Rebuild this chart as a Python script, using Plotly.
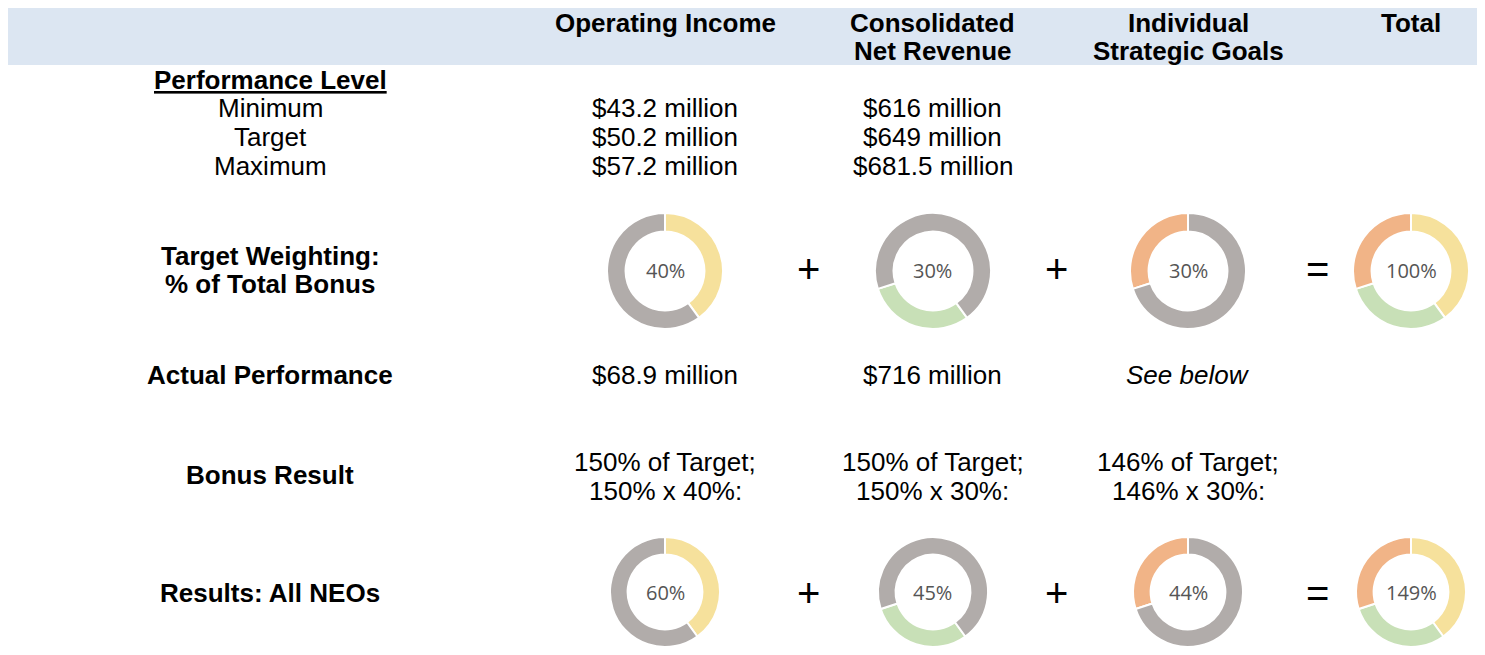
import plotly.graph_objects as go

W, H = 1485, 655
OFF = 8  # page body margin
FW, FH = W - 2 * OFF, H - 2 * OFF

# ---- data ----
components = ["Operating Income", "Consolidated<br>Net Revenue", "Individual<br>Strategic Goals"]
total_label = "Total"
levels = ["Minimum", "Target", "Maximum"]
op_income_levels = ["$43.2 million", "$50.2 million", "$57.2 million"]
net_revenue_levels = ["$616 million", "$649 million", "$681.5 million"]
weights = [40, 30, 30]               # target weighting, % of total bonus
actual_perf = ["$68.9 million", "$716 million", "See below"]
payout_pct = [150, 150, 146]         # % of target achieved
results_pct = [60, 45, 44]           # weighted result per component
results_total = 149
seg_colors = ["#f6e19c", "#c8e0b7", "#f1b487"]
gray = "#b1acaa"

# ---- layout helpers ----
col_x = [665, 933, 1188]
total_x = 1411
label_x = 270
ops_x = [808, 1056, 1317]
donut_rows = [271, 595]
R = 58

FONT = "Liberation Sans, Arial, sans-serif"
annots = []


def px(x):
    return min(1.0, max(0.0, (x - OFF) / FW))


def py(y):
    return min(1.0, max(0.0, 1 - (y - OFF) / FH))


def txt(x, y, s, size=26, bold=False, italic=False, color="#000000", family=FONT):
    if bold:
        s = "<b>" + s + "</b>"
    if italic:
        s = "<i>" + s + "</i>"
    annots.append(dict(x=px(x), y=py(y), xref="paper", yref="paper",
                       text=s, showarrow=False, xanchor="center", yanchor="middle",
                       borderpad=0,
                       font=dict(size=size, color=color, family=family)))


fig = go.Figure()

# header band
fig.add_shape(type="rect", xref="paper", yref="paper",
              x0=px(7), x1=px(1477), y0=py(65), y1=py(7),
              fillcolor="#dce6f2", line=dict(width=0), layer="below")

# header texts
for cx, name in zip(col_x, components):
    parts = name.split("<br>")
    for k, p in enumerate(parts):
        txt(cx, 23 + 28 * k, p, bold=True)
txt(total_x, 23, total_label, bold=True)

# performance levels
txt(label_x, 80, "<u>Performance Level</u>", bold=True)
for k, lv in enumerate(levels):
    y = 108 + 29 * k
    txt(label_x, y, lv)
    txt(col_x[0], y, op_income_levels[k])
    txt(col_x[1], y, net_revenue_levels[k])

# row labels
txt(label_x, 256, "Target Weighting:", bold=True)
txt(label_x, 284, "% of Total Bonus", bold=True)
txt(label_x, 375, "Actual Performance", bold=True)
txt(label_x, 475, "Bonus Result", bold=True)
txt(label_x, 593, "Results: All NEOs", bold=True)

# actual performance
for k, a in enumerate(actual_perf):
    txt(col_x[k], 375, a, italic=(k == 2))

# bonus result
for k in range(3):
    txt(col_x[k], 462, f"{payout_pct[k]}% of Target;")
    txt(col_x[k], 491, f"{payout_pct[k]}% x {weights[k]}%:")

# operators
for cy in donut_rows:
    for k, op in enumerate(["+", "+", "="]):
        txt(ops_x[k], cy - 2, op, size=40)


# donuts
def donut(cx, cy, values, colors, rotation, label):
    y0, y1 = py(cy + R), py(cy - R)
    fig.add_trace(go.Pie(
        values=values, marker=dict(colors=colors, line=dict(color="white", width=2)),
        hole=0.68, sort=False, direction="clockwise", rotation=rotation,
        textinfo="none", hoverinfo="skip", showlegend=False,
        domain=dict(x=[px(cx - R), px(cx + R)], y=[y0, y1]),
    ))
    # label at centre of the (possibly clipped) domain
    annots.append(dict(x=px(cx), y=(y0 + y1) / 2, xref="paper", yref="paper",
                       text=label, showarrow=False, xanchor="center", yanchor="middle",
                       font=dict(size=20, color="#555555", family="Open Sans, sans-serif")))


start = 0
starts = []
for w in weights:
    starts.append(start)
    start += w * 3.6

for r, cy in enumerate(donut_rows):
    labels = [f"{w}%" for w in weights] if r == 0 else [f"{v}%" for v in results_pct]
    tot_label = f"{sum(weights)}%" if r == 0 else f"{results_total}%"
    for k in range(3):
        donut(col_x[k], cy, [weights[k], 100 - weights[k]], [seg_colors[k], gray], starts[k], labels[k])
    donut(total_x, cy, weights, seg_colors, 0, tot_label)

fig.update_layout(
    width=FW, height=FH, margin=dict(l=0, r=0, t=0, b=0),
    paper_bgcolor="white", plot_bgcolor="white",
    annotations=annots, showlegend=False,
)

fig.write_html("out.html")
